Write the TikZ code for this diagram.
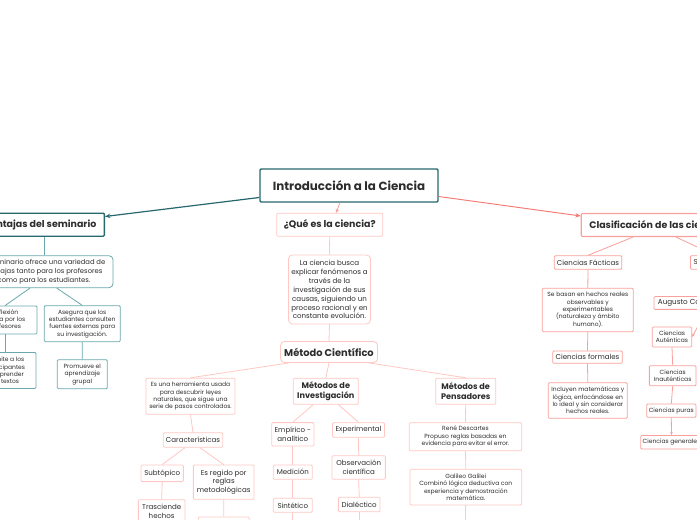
\documentclass[tikz,border=0pt]{standalone}
\usepackage{fontspec}
\setmainfont{Poppins}
\usetikzlibrary{calc,arrows.meta}
\definecolor{tealD}{RGB}{38,104,110}
\definecolor{tealL}{RGB}{105,168,175}
\definecolor{pinkL}{RGB}{255,200,196}
\definecolor{pinkM}{RGB}{248,160,155}
\definecolor{salmon}{RGB}{245,120,115}
\definecolor{txt}{RGB}{45,45,45}
\tikzset{
  bw/.style={minimum width=#1*0.75pt},
  bh/.style={minimum height=#1*0.75pt},
  base/.style={draw, fill=white, text=txt, align=center, inner sep=1pt, line width=0.6pt, rounded corners=0.8pt},
  tbox/.style={base, draw=tealD, line width=1.1pt},
  tsmall/.style={base, draw=tealL},
  pbox/.style={base, draw=pinkL},
  pmid/.style={base, draw=pinkM},
  fA/.style={font=\fontsize{8.9}{10}\selectfont\bfseries},
  fB/.style={font=\fontsize{7.1}{8.5}\selectfont\bfseries},
  fM/.style={font=\fontsize{7.4}{8.5}\selectfont\bfseries},
  fC/.style={font=\fontsize{6.1}{7.3}\selectfont\bfseries},
  fD/.style={font=\fontsize{5.3}{6.7}\selectfont},
  fE/.style={font=\fontsize{4.5}{5.5}\selectfont},
  fS/.style={font=\fontsize{5.1}{7}\selectfont},
  tline/.style={draw=tealL, line width=0.6pt},
  pline/.style={draw=pinkL, line width=0.6pt},
  mline/.style={draw=pinkM, line width=0.6pt},
}
\begin{document}
\begin{tikzpicture}[x=0.75pt,y=-0.75pt]
\useasboundingbox (0,0) rectangle (697,520);
\fill[white] (0,0) rectangle (697,520);
\clip (0,0) rectangle (697,520);

% root
\node[tbox, bw=178, bh=33, fA] (root) at (349,185.5) {Introducción a la Ciencia};

% left branch
\node[tbox, bh=23, fB, line width=1pt, anchor=east, inner xsep=6pt] (vent) at (105,224.7) {Ventajas del seminario};
\node[tsmall, bw=138, bh=32, fS, rounded corners=3pt] (sem) at (44,271.7) {El seminario ofrece una variedad de\\ventajas tanto para los profesores\\como para los estudiantes.};
\node[tsmall, bw=64, bh=28, fE] (refl) at (5,320) {Reflexión\\crítica por los\\profesores};
\node[tsmall, bw=76, bh=36, fE] (aseg) at (82.2,323.7) {Asegura que los\\estudiantes consulten\\fuentes externas para\\su investigación.};
\node[tsmall, bw=62, bh=36, fE] (perm) at (5,370.5) {Permite a los\\participantes\\comprender\\los textos};
\node[tsmall, bw=50, bh=29, fE] (prom) at (82.3,374.3) {Promueve el\\aprendizaje\\grupal};

% middle branch
\node[pbox, bw=106, bh=23, fB] (que) at (329.7,224.7) {¿Qué es la ciencia?};
\node[pbox, bw=82, bh=69, fD, rounded corners=3pt] (cien) at (329.5,289.5) {La ciencia busca\\explicar fenómenos a\\través de la\\investigación de sus\\causas, siguiendo un\\proceso racional y en\\constante evolución.};
\node[pbox, bw=97, bh=21, fM, rounded corners=3pt] (met) at (329,352) {Método Científico};

\node[pbox, bw=89, bh=36, fE] (herr) at (190.5,396.2) {Es una herramienta usada\\para descubrir leyes\\naturales, que sigue una\\serie de pasos controlados.};
\node[pbox, bw=65, bh=26, fC] (mdi) at (325.8,391.2) {Métodos de\\Investigación};
\node[pbox, bw=60, bh=26, fC] (mdp) at (465.7,391.2) {Métodos de\\Pensadores};

\node[pbox, bw=59.4, bh=14.6, fD] (car) at (193,440) {Características};
\node[pbox, bw=42.3, bh=16.7, fD] (sub) at (162.2,473.3) {Subtópico};
\node[pbox, bw=60.7, bh=34.3, fD] (reg) at (223.7,482.2) {Es regido por\\reglas\\metodológicas};
\node[pbox, bw=46.7, fD, anchor=north, inner ysep=3pt] (tras) at (161.7,499.3) {Trasciende\\hechos};
\node[pbox, bw=51, bh=14, anchor=north] (reg2) at (223.8,516.7) {};

\node[pbox, bw=42.3, bh=23.3, fD] (emp) at (292.8,434.3) {Empírico -\\analítico};
\node[pbox, bw=52, bh=14.6, fD] (exp) at (358.5,430) {Experimental};
\node[pbox, bw=39, bh=14.3, fD] (med) at (292.8,472.2) {Medición};
\node[pbox, bw=39, bh=14, fD] (sin) at (292.8,505.3) {Sintético};
\node[pbox, bw=53.3, bh=23.6, fD] (obs) at (358.7,467.5) {Observación\\científica};
\node[pbox, bw=41.7, bh=14.4, fD] (dia) at (359.2,504.5) {Dialéctico};

\node[pbox, bw=112.4, bh=28, fE] (des) at (465.5,436.7) {René Descartes\\Propuso reglas basadas en\\evidencia para evitar el error.};
\node[pbox, bw=111.7, bh=35.7, fE] (gal) at (465.8,487.2) {Galileo Galilei\\Combinó lógica deductiva con\\experiencia y demostración\\matemática.};

\coordinate (sinEnd) at (292.8,530);
\coordinate (diaEnd) at (359.2,530);
\coordinate (galEnd) at (465.8,530);

% right branch
\node[pmid, bh=23, fB, line width=0.9pt, anchor=west, inner xsep=6pt] (clas) at (580.7,225) {Clasificación de las ciencias};
\node[pmid, bw=67.4, bh=13.6, fD] (fac) at (588,262.5) {Ciencias Fácticas};
\node[pmid, bh=13.6, fD, anchor=west, inner xsep=2.5pt] (sbox) at (690,262.5) {S};
\node[pmid, bw=91, bh=43.4, fE] (bas) at (587.8,310) {Se basan en hechos reales\\observables y\\experimentables\\(naturaleza y ámbito\\humano).};
\node[pmid, bw=69.6, bh=12.3, fD] (form) at (587.5,357.2) {Ciencias formales};
\node[pmid, bw=79, bh=35.6, fE] (incl) at (587.8,400.5) {Incluyen matemáticas y\\lógica, enfocándose en\\lo ideal y sin considerar\\hechos reales.};
\node[pmid, bh=12.8, font=\fontsize{5.4}{7}\selectfont, text=txt, anchor=west, inner xsep=3pt] (aug) at (653.5,303) {Augusto Comte};
\node[pmid, bw=39.4, bh=20, fE] (aut) at (672,337) {Ciencias\\Auténticas};
\node[pmid, bw=46.7, bh=20, fE] (inaut) at (672.7,375.7) {Ciencias\\Inauténticas};
\node[pmid, bw=49.3, bh=13.3, fE] (pur) at (671.3,410.7) {Ciencias puras};
\node[pmid, bw=61.6, bh=13.5, fE] (gen) at (671.5,442.3) {Ciencias generales};
\coordinate (sTop) at (716,255.7);
\coordinate (autFrom) at (705,313);

% connectors
\draw[draw=tealD, line width=0.9pt, -{Stealth[length=4pt,width=3.2pt]}] (root.west |- 0,197.5) -- (vent.east |- 0,216.5);
\draw[draw=salmon, line width=0.7pt, -{Stealth[length=4pt,width=3.2pt]}] (root.east |- 0,196.5) -- (clas.west |- 0,216);
\draw[draw=salmon!70, line width=0.6pt, -{Stealth[length=3pt,width=2.5pt]}] ($(root.south)+(-9,0)$) -- ($(que.north)+(6.3,0)$);

\draw[tline] (sem.north) -- (sem.north |- vent.south);
\draw[tline] ($(sem.south)+(-14,0)$) -- (refl.north);
\draw[tline] ($(sem.south)+(12.7,0)$) -- (aseg.north);
\draw[tline] (refl.south) -- (perm.north);
\draw[tline] (aseg.south) -- (prom.north);

\draw[pline] (que.south) -- (cien.north);
\draw[pline] (cien.south) -- (met.north);
\draw[pline] ($(met.south west)+(9,0)$) -- (herr.north);
\draw[pline] (met.south) -- (mdi.north);
\draw[pline] ($(met.south east)+(-9,0)$) -- (mdp.north);
\draw[pline] (herr.south) -- (car.north);
\draw[pline] ($(car.south)+(-8,0)$) -- (sub.north);
\draw[pline] ($(car.south)+(7,0)$) -- (reg.north);
\draw[pline] (sub.south) -- (tras.north);
\draw[pline] (reg.south) -- (reg2.north);
\draw[pline] ($(mdi.south)+(-12.5,0)$) -- (emp.north);
\draw[pline] ($(mdi.south)+(12.5,0)$) -- (exp.north);
\draw[pline] (emp.south) -- (med.north);
\draw[pline] (med.south) -- (sin.north);
\draw[pline] (sin.south) -- (sinEnd);
\draw[pline] (exp.south) -- (obs.north);
\draw[pline] (obs.south) -- (dia.north);
\draw[pline] (dia.south) -- (diaEnd);
\draw[pline] (mdp.south) -- (des.north);
\draw[pline] (des.south) -- (gal.north);
\draw[pline] (gal.south) -- (galEnd);

\draw[mline] (clas.south west |- clas.south) ++(52.3,0) -- (fac.north);
\draw[mline] (clas.south west |- clas.south) ++(95.3,0) -- (sTop);
\draw[mline] (fac.south) -- (bas.north);
\draw[mline] (bas.south) -- (form.north);
\draw[mline] (form.south) -- (incl.north);
\draw[mline, -{Stealth[length=2.5pt,width=2pt]}] (autFrom) -- (aut.east);
\draw[mline] (aut.south) -- (inaut.north);
\draw[mline] (inaut.south) -- (pur.north);
\draw[mline, -{Stealth[length=2.5pt,width=2pt]}] (pur.south) -- (gen.north);
\end{tikzpicture}
\end{document}
